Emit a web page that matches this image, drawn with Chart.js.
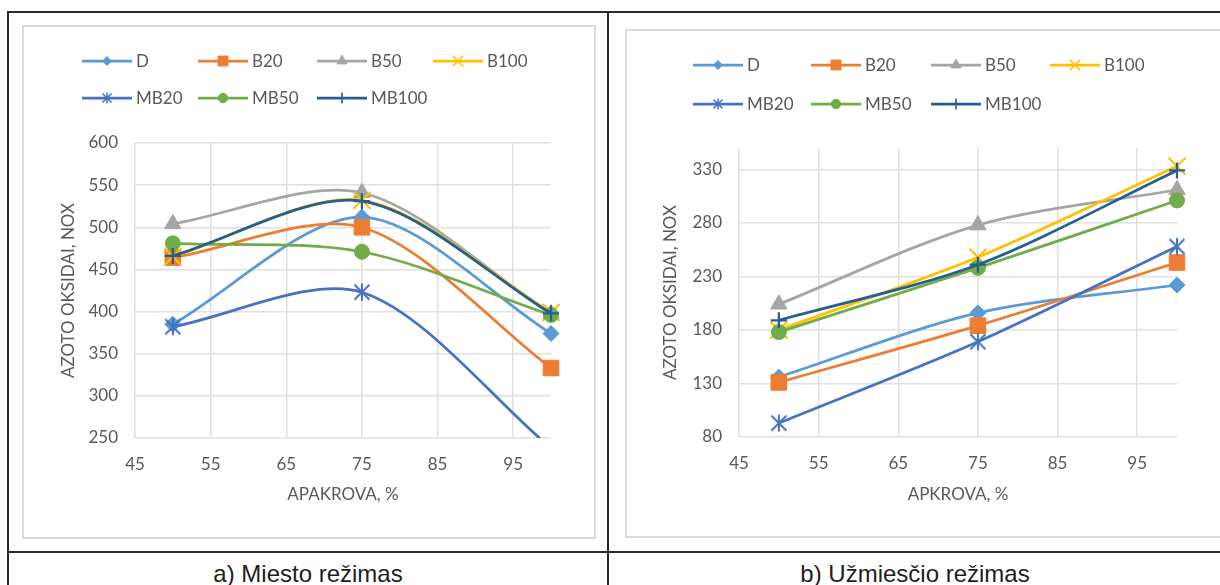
<!DOCTYPE html>
<html>
<head>
<meta charset="utf-8">
<script src="https://cdn.jsdelivr.net/npm/chart.js@4/dist/chart.umd.min.js"></script>
<style>
  html, body { margin: 0; padding: 0; background: #fff; width: 1220px; height: 585px; overflow: hidden; position: relative; }
  .rule { position: absolute; background: #2b2b2b; }
  .frame { position: absolute; border: 2px solid #dadada; box-sizing: border-box; }
  canvas { position: absolute; }
  .caption { position: absolute; top: 562px; font-family: "Liberation Sans", Arial, sans-serif; font-size: 24px; line-height: 24px; color: #1e1e1e; text-align: center; white-space: nowrap; }
</style>
</head>
<body>
<!-- table rules -->
<div class="rule" style="left:7px;top:11px;width:1220px;height:2px"></div>
<div class="rule" style="left:7px;top:11px;width:2px;height:580px"></div>
<div class="rule" style="left:607px;top:11px;width:2px;height:580px"></div>
<div class="rule" style="left:7px;top:551px;width:1220px;height:2px"></div>

<!-- chart frames -->
<div class="frame" style="left:22px;top:25px;width:574px;height:514px"></div>
<div class="frame" style="left:625px;top:29px;width:610px;height:509px"></div>

<canvas id="chartCity" width="572" height="512" style="left:23px;top:26px"></canvas>
<canvas id="chartRoad" width="600" height="507" style="left:626px;top:30px"></canvas>

<div class="caption" style="left:9px;width:598px">a) Miesto režimas</div>
<div class="caption" style="left:609px;width:612px">b) Užmiesčio režimas</div>

<script>
// Engine load, %
const loadPct = [50, 75, 100];
const seriesNames = ['D', 'B20', 'B50', 'B100', 'MB20', 'MB50', 'MB100'];

// a) City cycle NOx
const cityD     = [385, 512, 374];
const cityB20   = [464, 500, 333];
const cityB50   = [504, 541, 397];
const cityB100  = [465, 532, 399];
const cityMB20  = [382, 423, 238];
const cityMB50  = [481, 471, 396];
const cityMB100 = [466, 531, 398];

// b) Extra-urban cycle NOx
const roadD     = [136, 196, 222];
const roadB20   = [131, 184, 243];
const roadB50   = [204, 278, 311];
const roadB100  = [180, 248, 333];
const roadMB20  = [93, 169, 258];
const roadMB50  = [178, 238, 301];
const roadMB100 = [189, 241, 329];

// Axis ticks
const loadTicks = [45, 55, 65, 75, 85, 95];
const cityTicks = [250, 300, 350, 400, 450, 500, 550, 600];
const roadTicks = [80, 130, 180, 230, 280, 330];

const TEXT = '#595959';
const GRID = '#e0e0e0';
Chart.defaults.font.family = "Lato, 'Open Sans', sans-serif";
Chart.defaults.font.size = 17;
Chart.defaults.color = TEXT;

// asterisk marker: X plus a vertical bar
function starMarker(armX, armY, lw, color) {
  const size = 2 * Math.ceil(Math.max(armX, armY) + lw);
  const c = document.createElement('canvas');
  c.width = c.height = size;
  const g = c.getContext('2d');
  const m = size / 2;
  g.strokeStyle = color;
  g.lineWidth = lw;
  g.beginPath();
  g.moveTo(m - armX, m - armX); g.lineTo(m + armX, m + armX);
  g.moveTo(m + armX, m - armX); g.lineTo(m - armX, m + armX);
  g.moveTo(m, m - armY); g.lineTo(m, m + armY);
  g.stroke();
  return c;
}

const styles = [
  { color: '#5B9BD5', point: 'rectRot',  r: 8,    bw: 1,    lr: 4.5 },
  { color: '#ED7D31', point: 'rect',     r: 11,   bw: 1,    lr: 7 },
  { color: '#A5A5A5', point: 'triangle', r: 9.5,  bw: 1,    lr: 5.8 },
  { color: '#FFC000', point: 'crossRot', r: 12,   bw: 2,    lr: 7.5 },
  { color: '#4472C4', point: 'star',     r: 8,    bw: 2,    lr: 5 },
  { color: '#70AD47', point: 'circle',   r: 7.5,  bw: 1,    lr: 4.7 },
  { color: '#255E91', point: 'cross',    r: 8,    bw: 2.25, lr: 5.5 }
];
styles[4].point = starMarker(7.5, 8.5, 2, styles[4].color);
styles[4].legendPoint = starMarker(4.5, 5.5, 1.5, styles[4].color);

function makeDatasets(seriesValues) {
  return seriesValues.map((vals, i) => {
    const s = styles[i];
    return {
      label: seriesNames[i],
      data: loadPct.map((x, k) => ({ x: x, y: vals[k] })),
      borderColor: s.color,
      backgroundColor: s.color,
      borderWidth: 2.75,
      tension: 0.3,
      fill: false,
      pointStyle: s.point,
      pointRadius: s.r,
      pointBorderWidth: s.bw,
      pointBackgroundColor: s.color,
      pointBorderColor: s.color,
      legendStyle: s,
      order: seriesValues.length - i,
      clip: { left: 20, right: 20, top: 20, bottom: 0 }
    };
  });
}

// two-row legend with fixed columns, drawn on the chart canvas
const gridLegend = {
  id: 'gridLegend',
  afterDraw(chart, args, opts) {
    const ctx = chart.ctx;
    const drawPoint = Chart.helpers && Chart.helpers.drawPoint;
    ctx.save();
    chart.data.datasets.forEach((ds, i) => {
      const row = i < opts.perRow ? 0 : 1;
      const col = row === 0 ? i : i - opts.perRow;
      const x0 = opts.cols[col];
      const y = opts.rows[row];
      const s = ds.legendStyle;
      ctx.strokeStyle = s.color;
      ctx.fillStyle = s.color;
      ctx.lineWidth = 2.75;
      ctx.beginPath();
      ctx.moveTo(x0, y);
      ctx.lineTo(x0 + opts.lineLen, y);
      ctx.stroke();
      if (drawPoint) {
        ctx.lineWidth = s.bw > 1 ? 1.6 : 1;
        drawPoint(ctx, {
          pointStyle: s.legendPoint || s.point,
          radius: s.lr,
          rotation: 0,
          borderWidth: ctx.lineWidth
        }, x0 + opts.lineLen / 2, y);
      }
      ctx.fillStyle = TEXT;
      ctx.font = "17px Lato, 'Open Sans', sans-serif";
      ctx.textBaseline = 'middle';
      ctx.textAlign = 'left';
      ctx.fillText(ds.label, x0 + opts.lineLen + opts.gap, y + 1);
    });
    ctx.restore();
  }
};

function makeChart(id, seriesValues, yMin, yMax, yTicks, xTitle, geom) {
  return new Chart(document.getElementById(id), {
    type: 'line',
    data: { datasets: makeDatasets(seriesValues) },
    plugins: [gridLegend],
    options: {
      responsive: false,
      devicePixelRatio: 1,
      animation: false,
      events: [],
      layout: { padding: geom.padding },
      plugins: {
        legend: { display: false },
        tooltip: { enabled: false },
        gridLegend: geom.legend
      },
      scales: {
        x: {
          type: 'linear',
          min: 45,
          max: 100,
          afterBuildTicks: (scale) => { scale.ticks = loadTicks.map(v => ({ value: v })); },
          afterFit: (scale) => { scale.height = geom.xAxisH; },
          grid: { color: GRID, lineWidth: 1.5, drawTicks: false },
          border: { display: false },
          ticks: { padding: 16, autoSkip: false, maxRotation: 0, color: TEXT },
          title: { display: true, text: xTitle, color: TEXT, padding: { top: 0, bottom: geom.xTitlePad } }
        },
        y: {
          type: 'linear',
          min: yMin,
          max: yMax,
          afterBuildTicks: (scale) => { scale.ticks = yTicks.map(v => ({ value: v })); },
          afterFit: (scale) => { scale.width = geom.yAxisW; },
          grid: { color: GRID, lineWidth: 1.5, drawTicks: false },
          border: { display: false },
          ticks: { padding: 17, color: TEXT },
          title: { display: true, text: 'AZOTO OKSIDAI, NOX', color: TEXT, padding: { top: geom.yTitlePad, bottom: 0 } }
        }
      }
    }
  });
}

makeChart('chartCity',
  [cityD, cityB20, cityB50, cityB100, cityMB20, cityMB50, cityMB100],
  250, 600, cityTicks, 'APAKROVA, %',
  {
    padding: { top: 117, right: 44, bottom: 30, left: 0 },
    yAxisW: 112, xAxisH: 70, yTitlePad: 35, xTitlePad: 3,
    legend: { perRow: 4, cols: [59, 175, 294, 410], rows: [35, 72], lineLen: 50, gap: 4 }
  });

makeChart('chartRoad',
  [roadD, roadB20, roadB50, roadB100, roadMB20, roadMB50, roadMB100],
  80, 350, roadTicks, 'APKROVA, %',
  {
    padding: { top: 118, right: 49, bottom: 30, left: 0 },
    yAxisW: 113, xAxisH: 70, yTitlePad: 34, xTitlePad: 2,
    legend: { perRow: 4, cols: [67, 185, 305, 424], rows: [35, 74], lineLen: 50, gap: 4 }
  });
</script>
</body>
</html>
